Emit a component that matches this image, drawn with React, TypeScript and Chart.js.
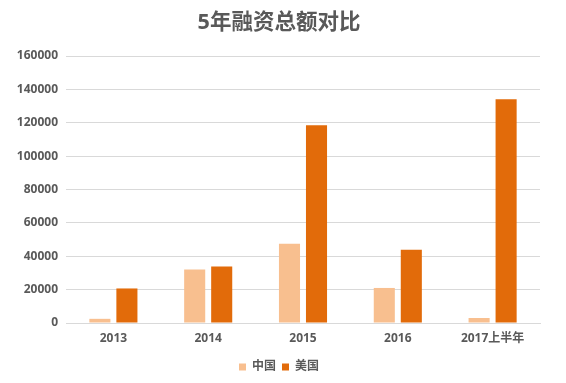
import React, { useEffect, useRef } from "react";
import { Chart, registerables } from "chart.js";

Chart.register(...registerables);

const categories = ["2013", "2014", "2015", "2016", "2017上半年"];
const chinaValues = [2500, 32000, 47500, 21000, 3000];
const usValues = [20700, 33800, 118500, 43900, 134100];
const seriesNames = ["中国", "美国"];
const titleText = "5年融资总额对比";

const FONT = "'Open Sans', 'Noto Sans CJK SC', sans-serif";
const TEXT = "#595959";

const titlePlugin = {
  id: "customTitle",
  afterLayout(chart: any) {
    if (chart.legend) {
      chart.legend.left += 9;
      chart.legend.right += 9;
    }
  },
  afterDraw(chart: any) {
    const c = chart.ctx;
    c.save();
    c.font = `bold 21.5px ${FONT}`;
    c.fillStyle = TEXT;
    c.textAlign = "center";
    c.textBaseline = "middle";
    c.fillText(titleText, 279, 23);
    c.restore();
  },
};

export default function App() {
  const ref = useRef<HTMLCanvasElement | null>(null);
  useEffect(() => {
    document.body.style.margin = "0";
    const ctx = ref.current!;
    const chart = new Chart(ctx, {
      type: "bar",
      data: {
        labels: categories,
        datasets: [
          {
            label: seriesNames[0],
            data: chinaValues,
            backgroundColor: "#F8BF8F",
            categoryPercentage: 0.57,
            barPercentage: 0.78,
          },
          {
            label: seriesNames[1],
            data: usValues,
            backgroundColor: "#E26B0A",
            categoryPercentage: 0.57,
            barPercentage: 0.78,
          },
        ],
      },
      options: {
        animation: false,
        responsive: false,
        maintainAspectRatio: false,
        layout: { padding: { left: 0, right: 26, top: 56, bottom: 0 } },
        plugins: {
          title: { display: false },
          legend: {
            position: "bottom",
            labels: {
              boxWidth: 7,
              boxHeight: 7,
              color: TEXT,
              padding: 6,
              font: { family: FONT, size: 12, weight: "bold" },
            },
          },
          tooltip: { enabled: false },
        },
        scales: {
          x: {
            grid: { display: false, drawTicks: false },
            border: { display: true, color: "#d9d9d9" },
            ticks: {
              color: TEXT,
              padding: 8,
              font: { family: FONT, size: 12, weight: "bold" },
            },
            afterFit: (s: any) => {
              s.height = 32;
            },
          },
          y: {
            min: 0,
            max: 160000,
            grid: { color: "#d9d9d9", drawTicks: false },
            border: { display: false },
            ticks: {
              stepSize: 20000,
              color: TEXT,
              padding: 8,
              font: { family: FONT, size: 12, weight: "bold" },
              callback: (v: any) => String(v),
            },
            afterFit: (s: any) => {
              s.width = 66;
            },
          },
        },
      },
      plugins: [titlePlugin],
    });
    return () => chart.destroy();
  }, []);
  return (
    <div style={{ width: 566, height: 383 }}>
      <canvas ref={ref} width={566} height={383} />
    </div>
  );
}
